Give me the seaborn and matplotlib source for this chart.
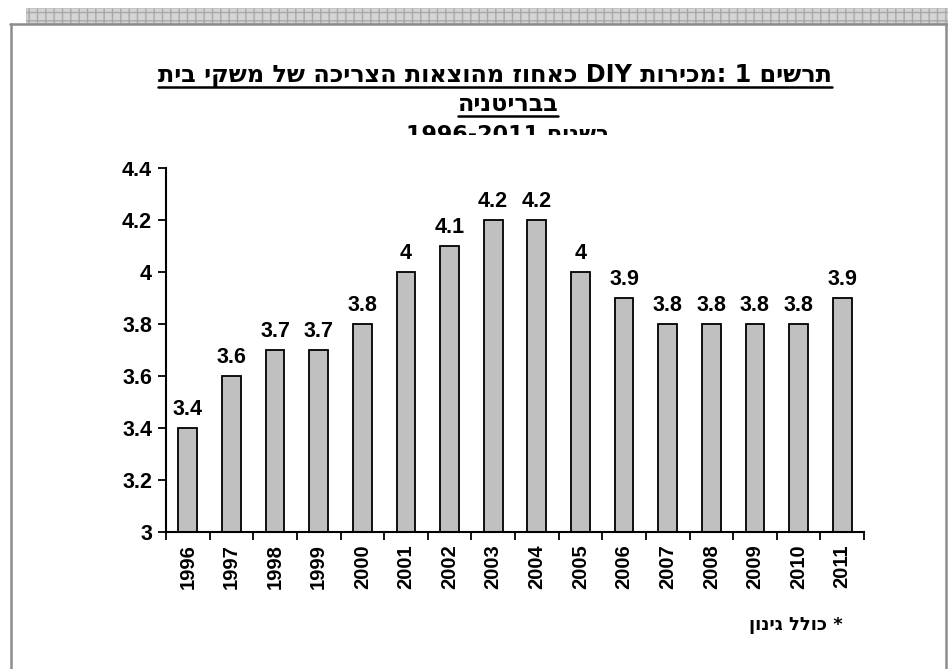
import matplotlib
matplotlib.use('Agg')
import matplotlib.pyplot as plt
import seaborn as sns
import pandas as pd
from matplotlib.patches import Rectangle
from matplotlib.lines import Line2D

# ---------------------------------------------------------------------------
# Data — DIY sales as % of UK household consumption spending
# ---------------------------------------------------------------------------
YEARS = ['1996', '1997', '1998', '1999', '2000', '2001', '2002', '2003',
         '2004', '2005', '2006', '2007', '2008', '2009', '2010', '2011']
SHARE = [3.4, 3.6, 3.7, 3.7, 3.8, 4.0, 4.1, 4.2,
         4.2, 4.0, 3.9, 3.8, 3.8, 3.8, 3.8, 3.9]
Y_TICKS = [3.0, 3.2, 3.4, 3.6, 3.8, 4.0, 4.2, 4.4]

TITLE_1 = 'תרשים 1 :מכירות DIY כאחוז מהוצאות הצריכה של משקי בית'
TITLE_2 = 'בבריטניה'
TITLE_3 = 'בשנים 1996-2011'
NOTE = '* כולל גינון'

BAR_COLOR = '#c0c0c0'
FRAME_COLOR = '#8c8c8c'
FONT = ['Liberation Sans', 'DejaVu Sans']
# Liberation Sans Bold has only thin Hebrew glyphs, DejaVu's are really bold
HEB_FONT = ['DejaVu Sans', 'Liberation Sans']

W, H = 948, 669


def visual(s):
    """matplotlib has no bidi support: put Hebrew text in visual (LTR) order."""
    out = []
    for tok in reversed(s.split(' ')):
        if any('\u0590' <= c <= '\u05ff' for c in tok):
            tok = tok[::-1]
        out.append(tok)
    return ' '.join(out)


def fx(px):
    return px / W


def fy(py):
    return 1 - py / H


sns.set_style('white')
plt.rcParams['font.family'] = FONT
plt.rcParams['font.weight'] = 'bold'
plt.rcParams['text.color'] = 'black'
plt.rcParams['xtick.color'] = 'black'
plt.rcParams['ytick.color'] = 'black'

df = pd.DataFrame({'year': YEARS, 'share': SHARE})

fig = plt.figure(figsize=(W / 100, H / 100), dpi=100)
ax = fig.add_axes([fx(166), fy(532), fx(864) - fx(166), fy(168) - fy(532)])

sns.barplot(data=df, x='year', y='share', ax=ax, color=BAR_COLOR,
            width=0.43, edgecolor='black', linewidth=1.3, saturation=1)

ax.set_ylim(3, 4.4)
ax.set_xlim(-0.5, len(YEARS) - 0.5)
ax.set_yticks(Y_TICKS)
ax.set_yticklabels(['{:g}'.format(v) for v in Y_TICKS], fontsize=15.5, fontweight='bold')
ax.set_xticks(range(len(YEARS)))
ax.set_xticklabels(YEARS, rotation=90, fontsize=14.5, fontweight='bold')
ax.set_xticks([i - 0.5 for i in range(len(YEARS) + 1)], minor=True)
ax.tick_params(axis='x', which='major', length=0, pad=9)
ax.tick_params(axis='x', which='minor', length=6, width=1.3, direction='out', bottom=True)
ax.tick_params(axis='y', length=6, width=1.3, direction='out', left=True, pad=4)
ax.set_xlabel('')
ax.set_ylabel('')
for side in ['top', 'right']:
    ax.spines[side].set_visible(False)
for side in ['left', 'bottom']:
    ax.spines[side].set_color('black')
    ax.spines[side].set_linewidth(1.5)

for i, v in enumerate(SHARE):
    ax.annotate('{:g}'.format(v), (i, v), xytext=(0, 6), textcoords='offset points',
                ha='center', va='bottom', fontsize=15.5, fontweight='bold', color='black')

# title block (third line is partly hidden by the plot area, as in the source)
t1 = fig.text(fx(495), fy(82), visual(TITLE_1), ha='center', va='baseline',
              fontsize=17.2, fontweight='bold', family=HEB_FONT, color='black')
t2 = fig.text(fx(508), fy(111), visual(TITLE_2), ha='center', va='baseline',
              fontsize=17.2, fontweight='bold', family=HEB_FONT, color='black')
fig.text(fx(508), fy(141), visual(TITLE_3), ha='center', va='baseline',
         fontsize=16, fontweight='bold', family=HEB_FONT, zorder=3, color='black')
fig.add_artist(Rectangle((fx(100), fy(162)), fx(800), fy(135) - fy(162),
                         transform=fig.transFigure, facecolor='white',
                         edgecolor='none', zorder=4))

fig.canvas.draw()
renderer = fig.canvas.get_renderer()
for t, uy in [(t1, 87), (t2, 116)]:
    bb = t.get_window_extent(renderer).transformed(fig.transFigure.inverted())
    fig.add_artist(Line2D([bb.x0, bb.x1], [fy(uy), fy(uy)], transform=fig.transFigure,
                          color='black', linewidth=1.8))

fig.text(fx(843), fy(630), visual(NOTE), ha='right', va='baseline',
         fontsize=13, fontweight='bold', family=HEB_FONT, color='black')

# worksheet-like frame and grey band at the top
fig.add_artist(Rectangle((fx(26), fy(23)), fx(W) - fx(26), fy(8) - fy(23),
                         transform=fig.transFigure, facecolor='#d4d4d4',
                         edgecolor='#a8a8a8', hatch='++', linewidth=0.4))
fig.add_artist(Line2D([fx(10), fx(947)], [fy(24), fy(24)], transform=fig.transFigure,
                      color=FRAME_COLOR, linewidth=1.8))
fig.add_artist(Line2D([fx(11), fx(11)], [fy(24), 0], transform=fig.transFigure,
                      color=FRAME_COLOR, linewidth=1.8))
fig.add_artist(Line2D([fx(946), fx(946)], [fy(24), 0], transform=fig.transFigure,
                      color=FRAME_COLOR, linewidth=1.8))

fig.savefig('out.png', dpi=100)
